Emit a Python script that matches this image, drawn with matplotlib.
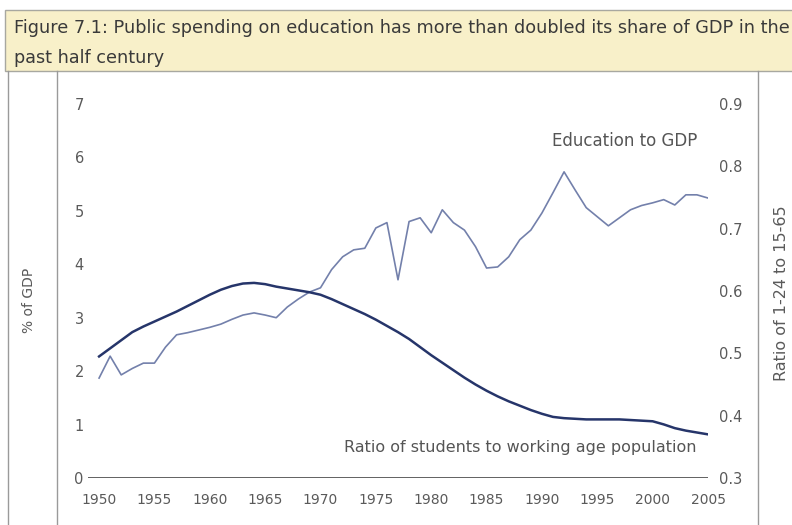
import matplotlib
matplotlib.use("Agg")
import matplotlib.pyplot as plt
from matplotlib.patches import Rectangle
from matplotlib.lines import Line2D

years = list(range(1950, 2006))

# Education spending, % of GDP (left axis)
education_to_gdp = [
    1.87, 2.28, 1.93, 2.05, 2.15, 2.15, 2.45, 2.68, 2.72, 2.77,
    2.82, 2.88, 2.97, 3.05, 3.09, 3.05, 3.00, 3.20, 3.35, 3.48,
    3.56, 3.90, 4.14, 4.27, 4.30, 4.68, 4.78, 3.71, 4.80, 4.87,
    4.59, 5.02, 4.78, 4.64, 4.33, 3.93, 3.95, 4.14, 4.46, 4.64,
    4.96, 5.34, 5.73, 5.39, 5.06, 4.89, 4.72, 4.87, 5.02, 5.10,
    5.15, 5.21, 5.11, 5.30, 5.30, 5.24,
]

# Ratio of students to working age population (right axis)
student_ratio = [
    0.495, 0.508, 0.521, 0.534, 0.543, 0.551, 0.559, 0.567, 0.576, 0.585,
    0.594, 0.602, 0.608, 0.612, 0.613, 0.611, 0.607, 0.604, 0.601, 0.598,
    0.594, 0.587, 0.579, 0.571, 0.563, 0.554, 0.544, 0.534, 0.523, 0.510,
    0.497, 0.485, 0.473, 0.461, 0.450, 0.440, 0.431, 0.423, 0.416, 0.409,
    0.403, 0.398, 0.396, 0.395, 0.394, 0.394, 0.394, 0.394, 0.393, 0.392,
    0.391, 0.386, 0.380, 0.376, 0.373, 0.370,
]

x_ticks = list(range(1950, 2006, 5))
left_ticks = [0, 1, 2, 3, 4, 5, 6, 7]
right_ticks = [0.3, 0.4, 0.5, 0.6, 0.7, 0.8, 0.9]
right_tick_labels = ["0.3", "0.4", "0.5", "0.6", "0.7", "0.8", "0.9"]

title_line1 = "Figure 7.1: Public spending on education has more than doubled its share of GDP in the"
title_line2 = "past half century"

W, H = 792, 525
fig = plt.figure(figsize=(W / 100, H / 100), dpi=100)
fig.patch.set_facecolor("white")

def fx(px):
    return px / W

def fy(py):
    return 1 - py / H

# Title box
fig.patches.append(Rectangle((fx(5), fy(71)), fx(800) - fx(5), fy(10) - fy(71),
                             transform=fig.transFigure, facecolor="#f8f0c9",
                             edgecolor="#a8a8a0", linewidth=1.0, zorder=0))
frame_col = "#9a9a9a"
for xp in (8, 57, 758):
    fig.lines.append(Line2D([fx(xp), fx(xp)], [fy(71), 0], transform=fig.transFigure,
                            color=frame_col, linewidth=1.0))

fig.text(fx(14), fy(28), title_line1, ha="left", va="center", fontsize=12.7,
         color="#3a3a3a")
fig.text(fx(14), fy(58), title_line2, ha="left", va="center", fontsize=12.7,
         color="#3a3a3a")

# Main axes: 1949 -> px 88, 2005 -> px 708 ; 0 -> py 478, 7 -> py 104
ax = fig.add_axes([fx(88), fy(478), fx(708) - fx(88), fy(104) - fy(478)])
ax.set_xlim(1949, 2005)
ax.set_ylim(0, 7)
ax2 = ax.twinx()
ax2.set_ylim(0.3, 0.9)

for a in (ax, ax2):
    for s in a.spines.values():
        s.set_visible(False)
    a.set_facecolor("none")

ax.axhline(0, color="#555555", linewidth=1.3, zorder=1)

ax.plot(years, education_to_gdp, color="#7380ab", linewidth=1.2, zorder=3)
ax2.plot(years, student_ratio, color="#26356a", linewidth=1.8, zorder=4)

tick_col = "#5a5a5a"
ax.set_xticks(x_ticks)
ax.set_xticklabels([str(v) for v in x_ticks])
ax.set_yticks(left_ticks)
ax.set_yticklabels([str(v) for v in left_ticks])
ax2.set_yticks(right_ticks)
ax2.set_yticklabels(right_tick_labels)
ax.tick_params(axis="x", length=0, pad=11, labelsize=10, labelcolor=tick_col)
ax.tick_params(axis="y", length=0, pad=3, labelsize=10.5, labelcolor=tick_col)
ax2.tick_params(axis="y", length=0, pad=8, labelsize=10.5, labelcolor=tick_col)

fig.text(fx(29), fy(300), "% of GDP", rotation=90, ha="center", va="center",
         fontsize=10, color=tick_col)
fig.text(fx(782), fy(293), "Ratio of 1-24 to 15-65", rotation=90, ha="center",
         va="center", fontsize=11.5, color=tick_col)

ax.text(2004.0, 6.3, "Education to GDP", ha="right", va="center",
        fontsize=12, color="#555555")
ax.text(2004.0, 0.58, "Ratio of students to working age population",
        ha="right", va="center", fontsize=11.5, color="#555555")

fig.savefig("out.png", dpi=100, facecolor="white")
